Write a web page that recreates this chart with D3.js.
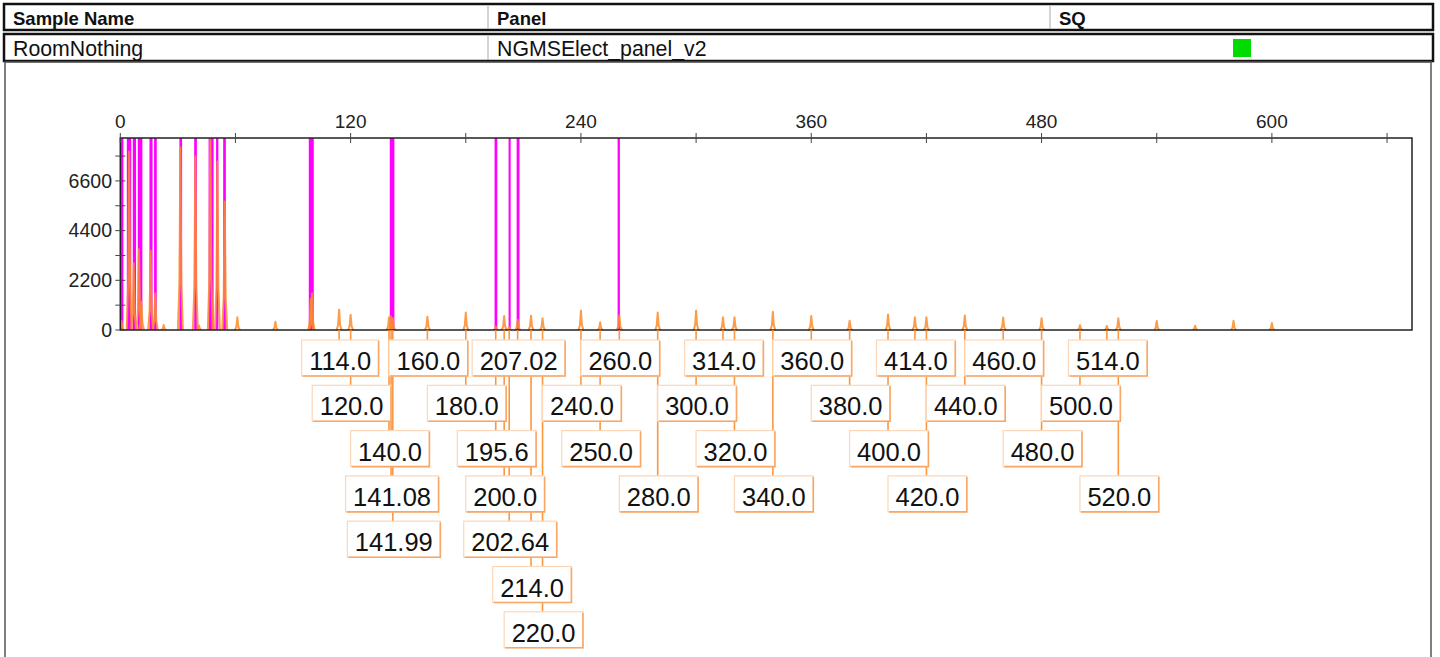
<!DOCTYPE html>
<html>
<head>
<meta charset="utf-8">
<script src="https://cdn.jsdelivr.net/npm/d3@7"></script>
<style>
  html, body { margin: 0; padding: 0; background: #fff; }
  svg { display: block; font-family: "Liberation Sans", Arial, Helvetica, sans-serif; }
</style>
</head>
<body>
<svg id="chart" width="1440" height="657"></svg>
<script>
// Sample header
const headerColumns = ["Sample Name", "Panel", "SQ"];
const sampleRow = ["RoomNothing", "NGMSElect_panel_v2"];

// Axis ticks
const xTickLabels = [0, 120, 240, 360, 480, 600];
const xMinorTicks = [60, 180, 300, 420, 540, 660];
const yTickLabels = [0, 2200, 4400, 6600];
const yMinorTicks = [1100, 3300, 5500, 7700];

// Called peaks (size in bp as labelled) and their heights (RFU)
const labelTexts = ["114.0", "120.0", "140.0", "141.08", "141.99", "160.0", "180.0", "195.6",
  "200.0", "202.64", "207.02", "214.0", "220.0", "240.0", "250.0", "260.0", "280.0", "300.0",
  "314.0", "320.0", "340.0", "360.0", "380.0", "400.0", "414.0", "420.0", "440.0", "460.0",
  "480.0", "500.0", "514.0", "520.0"];
const labelHeights = [900, 680, 560, 600, 520, 590, 770, 150,
  620, 120, 440, 635, 520, 860, 340, 650, 770, 860,
  560, 560, 810, 620, 410, 690, 560, 560, 640, 550,
  520, 210, 180, 520];

// Uncalled trace peaks (size in bp, height in RFU)
const traceSizes = [0.6, 4.6, 7.0, 9.7, 11.0, 15.8, 18.2, 22.6, 31.3, 39.1, 41.0, 46.9, 50.6,
  54.4, 61.0, 80.8, 99.2, 99.9, 540, 560, 580, 600];
const traceHeights = [400, 7900, 2950, 3570, 1250, 3510, 1620, 220, 8090, 7680, 200, 9000, 7460,
  5690, 560, 370, 1370, 1620, 400, 190, 410, 310];

// Off-scale regions (bp ranges)
const offScaleStart = [0, 3.4, 6.5, 9.1, 15.2, 17.6, 30.8, 38.5, 46.0, 49.9, 53.6, 98.2, 140.4,
  195.0, 202.3, 206.5, 259.1];
const offScaleEnd = [1.6, 5.7, 8.2, 11.5, 16.8, 19.0, 32.2, 39.9, 48.6, 51.1, 55.0, 100.8, 142.8,
  196.4, 203.4, 208.0, 260.3];

const svg = d3.select("#chart");
const ORANGE = "#fb8c2c";

// ---------- header table ----------
const colX = [4, 488, 1050, 1433];
const hdr = svg.append("g");
hdr.append("rect").attr("x", 4).attr("y", 4).attr("width", 1429).attr("height", 26)
  .attr("fill", "#fff").attr("stroke", "#111").attr("stroke-width", 2.5);
hdr.append("rect").attr("x", 4).attr("y", 34).attr("width", 1429).attr("height", 27)
  .attr("fill", "#fff").attr("stroke", "#111").attr("stroke-width", 2.5);
[488, 1050].forEach(x => hdr.append("line").attr("x1", x).attr("x2", x).attr("y1", 6).attr("y2", 29)
  .attr("stroke", "#aaa").attr("stroke-width", 1));
hdr.append("line").attr("x1", 488).attr("x2", 488).attr("y1", 36).attr("y2", 60)
  .attr("stroke", "#aaa").attr("stroke-width", 1);
headerColumns.forEach((t, i) => hdr.append("text").attr("x", colX[i] + 9).attr("y", 24.5)
  .attr("font-size", 18.5).attr("font-weight", "bold").attr("fill", "#111").text(t));
sampleRow.forEach((t, i) => hdr.append("text").attr("x", colX[i] + 9).attr("y", 55.5)
  .attr("font-size", 21.3).attr("fill", "#111").text(t));
hdr.append("rect").attr("x", 1233).attr("y", 39).attr("width", 18).attr("height", 18)
  .attr("fill", "#00dc00");
// electropherogram panel frame
hdr.append("path").attr("d", "M5,657 V62 H1431 V657").attr("fill", "none")
  .attr("stroke", "#555").attr("stroke-width", 1.5);

// ---------- plot ----------
const x = d3.scaleLinear().domain([0, 673]).range([120.3, 1412]);
const y = d3.scaleLinear().domain([0, 8500]).range([330, 138]);

svg.append("defs").append("clipPath").attr("id", "plotClip")
  .append("rect").attr("x", x(0)).attr("y", y(8500)).attr("width", x(673) - x(0)).attr("height", y(0) - y(8500));

// off-scale markers
svg.append("g").attr("clip-path", "url(#plotClip)").selectAll("rect")
  .data(offScaleStart.map((s, i) => [s, offScaleEnd[i]]))
  .join("rect")
  .attr("x", d => x(d[0])).attr("width", d => Math.max(1.5, x(d[1]) - x(d[0])))
  .attr("y", y(8500)).attr("height", y(0) - y(8500))
  .attr("fill", "#ff00ff");

// trace peaks
const peaks = traceSizes.map((s, i) => ({ size: s, h: traceHeights[i] }))
  .concat(labelTexts.map((t, i) => ({ size: +t, h: labelHeights[i] })));
const halfWidth = 1.3;
const peakLine = d3.line().x(d => x(d[0])).y(d => y(d[1]));
svg.append("g").attr("clip-path", "url(#plotClip)").selectAll("path")
  .data(peaks)
  .join("path")
  .attr("d", p => peakLine([[p.size - halfWidth, 0], [p.size - halfWidth * 0.4, p.h * 0.25],
    [p.size, p.h], [p.size + halfWidth * 0.4, p.h * 0.25], [p.size + halfWidth, 0]]))
  .attr("fill", "none").attr("stroke", ORANGE).attr("stroke-width", 2)
  .attr("stroke-opacity", 0.85).attr("stroke-linejoin", "round");

// frame and axes
svg.append("rect").attr("x", x(0)).attr("y", y(8500)).attr("width", x(673) - x(0))
  .attr("height", y(0) - y(8500)).attr("fill", "none").attr("stroke", "#222").attr("stroke-width", 1.5);

const xAxis = svg.append("g");
xAxis.selectAll("line").data(xTickLabels.concat(xMinorTicks)).join("line")
  .attr("x1", d => x(d)).attr("x2", d => x(d)).attr("y1", y(8500) - 5).attr("y2", y(8500) + 5)
  .attr("stroke", "#444").attr("stroke-width", 1);
xAxis.selectAll("text").data(xTickLabels).join("text")
  .attr("x", d => x(d)).attr("y", 128).attr("text-anchor", "middle")
  .attr("font-size", 19).attr("fill", "#222").text(d => d);

const yAxis = svg.append("g");
yAxis.selectAll("line").data(yTickLabels.concat(yMinorTicks)).join("line")
  .attr("x1", x(0) - 5).attr("x2", x(0) + 5).attr("y1", d => y(d)).attr("y2", d => y(d))
  .attr("stroke", "#444").attr("stroke-width", 1);
yAxis.selectAll("text").data(yTickLabels).join("text")
  .attr("x", 112).attr("y", d => y(d)).attr("dy", "0.35em").attr("text-anchor", "end")
  .attr("font-size", 19.5).attr("fill", "#222").text(d => d);

// ---------- peak labels ----------
const rowTop0 = 340, rowStep = 45.3, boxH = 36, pad = 7.5;
const labelLayer = svg.append("g");
const connectors = labelLayer.append("g");
const boxes = labelLayer.append("g");

// measure label widths
const meas = svg.append("text").attr("font-size", 25.5).attr("visibility", "hidden");
const labels = labelTexts.map((t, i) => {
  meas.text(t);
  const w = meas.node().getComputedTextLength() + pad * 2;
  return { text: t, size: +t, w };
}).sort((a, b) => a.size - b.size);
meas.remove();

// greedy row assignment: first row whose last box ends before this one starts
const rowRight = [];
labels.forEach(l => {
  l.cx = x(l.size) + 1;
  l.left = l.cx - l.w / 2;
  let r = 0;
  while (rowRight[r] !== undefined && l.left < rowRight[r] + 2) r++;
  rowRight[r] = l.left + l.w;
  l.row = r;
  l.top = rowTop0 + r * rowStep;
});

connectors.selectAll("line").data(labels).join("line")
  .attr("x1", d => x(d.size)).attr("x2", d => x(d.size))
  .attr("y1", y(0)).attr("y2", d => d.top)
  .attr("stroke", ORANGE).attr("stroke-width", 1.6).attr("stroke-opacity", 0.9);

const box = boxes.selectAll("g").data(labels).join("g");
box.append("rect")
  .attr("x", d => d.left).attr("y", d => d.top).attr("width", d => d.w).attr("height", boxH)
  .attr("fill", "#fff").attr("stroke", "#fcd6b6").attr("stroke-width", 1.2);
box.append("path")
  .attr("d", d => `M${d.left + 1},${d.top + boxH} H${d.left + d.w} V${d.top + 1}`)
  .attr("fill", "none").attr("stroke", "#f9a766").attr("stroke-width", 1.6);
box.append("text")
  .attr("x", d => d.left + d.w / 2).attr("y", d => d.top + boxH - 6)
  .attr("text-anchor", "middle").attr("font-size", 25.5).attr("fill", "#111")
  .text(d => d.text);
</script>
</body>
</html>
